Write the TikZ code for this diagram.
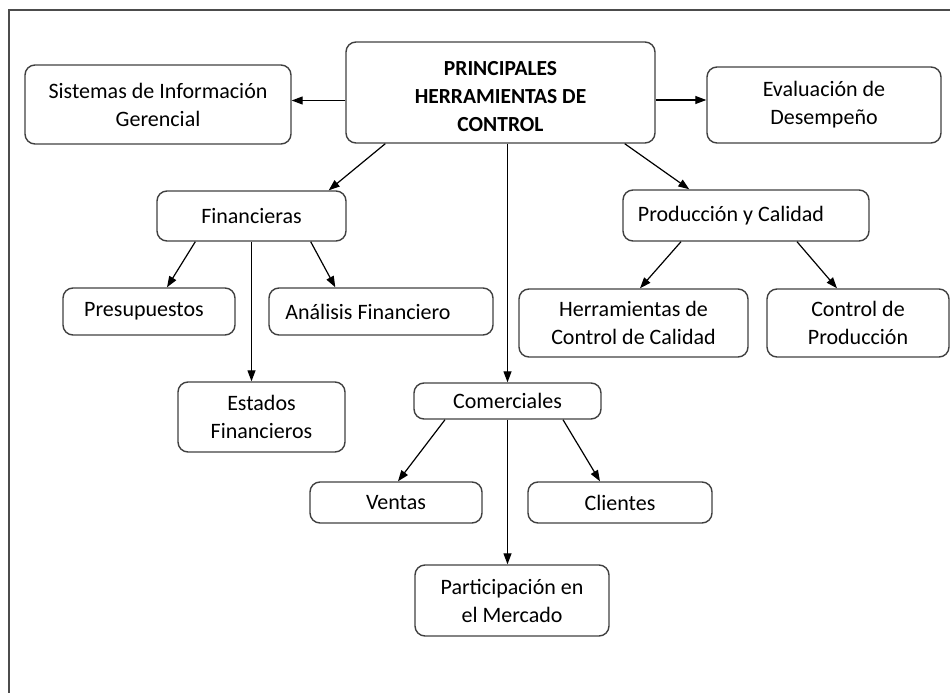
\documentclass[tikz,border=0pt]{standalone}
\usepackage{fontspec}
\setmainfont{Carlito}
\usetikzlibrary{arrows.meta}

\begin{document}
\begin{tikzpicture}[
  x=1pt, y=-1pt,
  tool/.style={draw=black!75, line width=1.4pt, rounded corners=10pt, align=center,
    inner sep=0pt, font=\fontsize{22}{28}\selectfont},
  edge/.style={-{Triangle[length=11pt,width=8pt]}, line width=1.2pt}
]
\useasboundingbox (0,0) rectangle (950,693);
\draw[black!70, line width=1.8pt] (9,693) -- (9,10) -- (950,10);

\node[tool, minimum width=309pt, minimum height=101pt, font=\fontsize{21.5}{28}\selectfont\bfseries]
  (main) at (500.5,92.5) {\raisebox{0pt}[\dimexpr\height+10pt\relax]{\begin{tabular}{@{}c@{}}PRINCIPALES\\HERRAMIENTAS DE\\CONTROL\end{tabular}}};
\node[tool, minimum width=266pt, minimum height=79pt] (sig) at (158,104.5) {Sistemas de Información\\Gerencial};
\node[tool, minimum width=234pt, minimum height=76pt] (eval) at (824,105) {Evaluación de\\Desempeño};
\node[tool, minimum width=189pt, minimum height=50pt] (fin) at (251.5,216) {Financieras};
\node[tool, minimum width=246pt, minimum height=51pt] (prod) at (746,215.5) {Producción y Calidad\hspace*{30pt}};
\node[tool, minimum width=172pt, minimum height=47pt] (pres) at (149,311.5) {Presupuestos\hspace*{10pt}};
\node[tool, minimum width=224pt, minimum height=47pt] (anal) at (381,311.5) {Análisis Financiero\hspace*{26pt}};
\node[tool, minimum width=229pt, minimum height=68pt] (herr) at (633.5,323) {Herramientas de\\Control de Calidad};
\node[tool, minimum width=182pt, minimum height=68pt] (ctrl) at (858,323) {Control de\\Producción};
\node[tool, minimum width=167pt, minimum height=70pt] (est) at (261.5,417) {Estados\\Financieros};
\node[tool, minimum width=187pt, minimum height=36pt] (comm) at (507.5,401) {Comerciales};
\node[tool, minimum width=172pt, minimum height=41pt] (vent) at (396,502.5) {Ventas};
\node[tool, minimum width=184pt, minimum height=41pt] (cli) at (620,502.5) {Clientes};
\node[tool, minimum width=194pt, minimum height=71pt] (part) at (512,600.5) {Participación en\\el Mercado};

% top level
\draw[edge] ([yshift=4pt]main.west |- sig.east) -- ([yshift=4pt]sig.east);
\draw[edge] ([yshift=5pt]main.east |- eval.west) -- ([yshift=5pt]eval.west);
\draw[edge] ([xshift=40pt]main.south west) -- ([xshift=-18pt]fin.north east);
\draw[edge] ([xshift=-31pt]main.south east) -- ([xshift=67pt]prod.north west);
\draw[edge] (main.south -| comm.north) -- (comm.north);

% financieras
\draw[edge] ([xshift=39pt]fin.south west) -- ([xshift=18pt]pres.north);
\draw[edge] (fin.south) -- (fin.south |- est.north);
\draw[edge] ([xshift=-36pt]fin.south east) -- ([xshift=67pt]anal.north west);

% produccion
\draw[edge] ([xshift=-65pt]prod.south) -- ([xshift=6.5pt]herr.north);
\draw[edge] ([xshift=51pt]prod.south) -- ([xshift=-21pt]ctrl.north);

% comerciales
\draw[edge] ([xshift=-62.5pt]comm.south) -- ([xshift=2pt]vent.north);
\draw[edge] ([xshift=55.5pt]comm.south) -- ([xshift=-20pt]cli.north);
\draw[edge] (comm.south) -- (comm.south |- part.north);
\end{tikzpicture}
\end{document}
